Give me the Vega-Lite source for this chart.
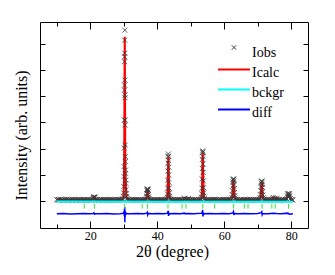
{
  "$schema": "https://vega.github.io/schema/vega-lite/v6.json",
  "width": 268,
  "height": 206,
  "autosize": {"type": "none"},
  "padding": {"left": 40, "top": 22, "right": 27, "bottom": 47},
  "background": "white",
  "config": {
    "font": "Liberation Serif, Times New Roman, serif",
    "view": {"stroke": "#000000", "strokeWidth": 1},
    "axis": {"tickColor": "#000000", "tickWidth": 1, "grid": false, "domain": false, "labelColor": "#000000", "titleColor": "#000000", "titleFontWeight": "normal", "labelFont": "Liberation Serif, Times New Roman, serif", "titleFont": "Liberation Serif, Times New Roman, serif"},
    "legend": {"labelFont": "Liberation Serif, Times New Roman, serif"}
  },
  "datasets": {
    "obs": [
      {"x":10.00,"y":0.06},{"x":10.25,"y":0.05},{"x":10.50,"y":0.07},{"x":10.75,"y":0.05},{"x":11.00,"y":0.06},{"x":11.25,"y":0.08},{"x":11.50,"y":0.05},{"x":11.75,"y":0.06},{"x":12.00,"y":0.04},{"x":12.25,"y":0.07},{"x":12.50,"y":0.05},{"x":12.75,"y":0.06},{"x":13.00,"y":0.08},{"x":13.25,"y":0.04},{"x":13.50,"y":0.06},{"x":13.75,"y":0.05},{"x":14.00,"y":0.07},{"x":14.25,"y":0.06},{"x":14.50,"y":0.04},{"x":14.75,"y":0.07},
      {"x":15.00,"y":0.05},{"x":15.25,"y":0.06},{"x":15.50,"y":0.07},{"x":15.75,"y":0.04},{"x":16.00,"y":0.06},{"x":16.25,"y":0.05},{"x":16.50,"y":0.08},{"x":16.75,"y":0.05},{"x":17.00,"y":0.06},{"x":17.25,"y":0.04},{"x":17.50,"y":0.07},{"x":17.75,"y":0.05},{"x":18.00,"y":0.06},{"x":18.25,"y":0.07},{"x":18.50,"y":0.05},{"x":18.75,"y":0.06},{"x":19.00,"y":0.04},{"x":19.25,"y":0.06},{"x":19.50,"y":0.07},{"x":19.75,"y":0.05},{"x":20.00,"y":0.06},{"x":20.25,"y":0.05},{"x":20.50,"y":0.07},
      {"x":20.75,"y":0.08},{"x":20.90,"y":0.11},{"x":21.00,"y":0.15},{"x":21.10,"y":0.17},{"x":21.20,"y":0.15},{"x":21.30,"y":0.13},{"x":21.45,"y":0.16},{"x":21.60,"y":0.08},
      {"x":21.75,"y":0.06},{"x":22.00,"y":0.05},{"x":22.25,"y":0.07},{"x":22.50,"y":0.04},{"x":22.75,"y":0.06},{"x":23.00,"y":0.05},{"x":23.25,"y":0.07},{"x":23.50,"y":0.06},{"x":23.75,"y":0.04},{"x":24.00,"y":0.06},{"x":24.25,"y":0.07},{"x":24.50,"y":0.05},{"x":24.75,"y":0.06},{"x":25.00,"y":0.05},{"x":25.25,"y":0.07},{"x":25.50,"y":0.04},{"x":25.75,"y":0.06},{"x":26.00,"y":0.08},{"x":26.25,"y":0.05},{"x":26.50,"y":0.06},{"x":26.75,"y":0.05},{"x":27.00,"y":0.07},{"x":27.25,"y":0.05},{"x":27.50,"y":0.06},{"x":27.75,"y":0.04},{"x":28.00,"y":0.07},{"x":28.25,"y":0.05},{"x":28.50,"y":0.06},{"x":28.75,"y":0.07},{"x":29.00,"y":0.05},{"x":29.25,"y":0.06},{"x":29.50,"y":0.08},
      {"x":29.80,"y":0.10},{"x":29.90,"y":0.20},{"x":29.96,"y":0.32},{"x":30.02,"y":0.56},{"x":30.06,"y":0.94},{"x":30.10,"y":1.32},{"x":30.14,"y":2.03},{"x":30.18,"y":3.09},{"x":30.22,"y":4.23},{"x":30.24,"y":4.42},{"x":30.25,"y":5.31},{"x":30.27,"y":5.50},{"x":30.28,"y":6.13},{"x":30.30,"y":6.51},{"x":30.32,"y":5.63},{"x":30.35,"y":4.61},{"x":30.37,"y":4.04},{"x":30.38,"y":3.94},{"x":30.41,"y":2.90},{"x":30.43,"y":3.09},{"x":30.44,"y":2.14},{"x":30.47,"y":1.70},{"x":30.50,"y":1.51},{"x":30.53,"y":1.19},{"x":30.57,"y":1.06},{"x":30.61,"y":0.81},{"x":30.65,"y":0.68},{"x":30.70,"y":0.43},{"x":30.76,"y":0.30},{"x":30.84,"y":0.18},{"x":30.92,"y":0.10},
      {"x":31.00,"y":0.08},{"x":31.25,"y":0.06},{"x":31.50,"y":0.07},{"x":31.75,"y":0.05},{"x":32.00,"y":0.06},{"x":32.25,"y":0.04},{"x":32.50,"y":0.07},{"x":32.75,"y":0.05},{"x":33.00,"y":0.06},{"x":33.25,"y":0.05},{"x":33.50,"y":0.07},{"x":33.75,"y":0.06},{"x":34.00,"y":0.04},{"x":34.25,"y":0.06},{"x":34.50,"y":0.07},{"x":34.75,"y":0.05},{"x":35.00,"y":0.06},{"x":35.25,"y":0.05},{"x":35.50,"y":0.07},{"x":35.75,"y":0.06},{"x":36.00,"y":0.05},{"x":36.25,"y":0.07},{"x":36.50,"y":0.06},
      {"x":36.70,"y":0.10},{"x":36.80,"y":0.18},{"x":36.88,"y":0.30},{"x":36.95,"y":0.40},{"x":37.00,"y":0.45},{"x":37.05,"y":0.47},{"x":37.10,"y":0.46},{"x":37.15,"y":0.44},{"x":37.20,"y":0.42},{"x":37.26,"y":0.36},{"x":37.32,"y":0.26},{"x":37.40,"y":0.16},{"x":37.50,"y":0.09},
      {"x":37.75,"y":0.06},{"x":38.00,"y":0.05},{"x":38.25,"y":0.07},{"x":38.50,"y":0.04},{"x":38.75,"y":0.06},{"x":39.00,"y":0.05},{"x":39.25,"y":0.07},{"x":39.50,"y":0.06},{"x":39.75,"y":0.05},{"x":40.00,"y":0.06},{"x":40.25,"y":0.04},{"x":40.50,"y":0.07},{"x":40.75,"y":0.05},{"x":41.00,"y":0.06},{"x":41.25,"y":0.07},{"x":41.50,"y":0.05},{"x":41.75,"y":0.06},{"x":42.00,"y":0.04},{"x":42.25,"y":0.07},{"x":42.50,"y":0.06},{"x":42.75,"y":0.05},
      {"x":42.85,"y":0.08},{"x":42.95,"y":0.15},{"x":43.03,"y":0.28},{"x":43.10,"y":0.50},{"x":43.15,"y":0.80},{"x":43.20,"y":1.15},{"x":43.24,"y":1.45},{"x":43.28,"y":1.70},{"x":43.31,"y":1.80},{"x":43.34,"y":1.72},{"x":43.37,"y":1.55},{"x":43.41,"y":1.30},{"x":43.45,"y":1.00},{"x":43.50,"y":0.72},{"x":43.55,"y":0.50},{"x":43.62,"y":0.32},{"x":43.70,"y":0.20},{"x":43.80,"y":0.11},
      {"x":44.00,"y":0.07},{"x":44.25,"y":0.05},{"x":44.50,"y":0.06},{"x":44.75,"y":0.04},{"x":45.00,"y":0.07},{"x":45.25,"y":0.05},{"x":45.50,"y":0.06},{"x":45.75,"y":0.05},{"x":46.00,"y":0.07},{"x":46.25,"y":0.06},{"x":46.50,"y":0.04},{"x":46.75,"y":0.06},{"x":47.00,"y":0.07},{"x":47.25,"y":0.05},{"x":47.50,"y":0.06},{"x":47.75,"y":0.05},
      {"x":47.95,"y":0.08},{"x":48.10,"y":0.12},{"x":48.25,"y":0.08},
      {"x":48.50,"y":0.06},{"x":48.75,"y":0.05},{"x":49.00,"y":0.07},
      {"x":49.20,"y":0.08},{"x":49.35,"y":0.11},{"x":49.50,"y":0.07},
      {"x":49.75,"y":0.05},{"x":50.00,"y":0.06},{"x":50.25,"y":0.04},{"x":50.50,"y":0.07},{"x":50.75,"y":0.05},{"x":51.00,"y":0.06},{"x":51.25,"y":0.07},{"x":51.50,"y":0.05},{"x":51.75,"y":0.06},{"x":52.00,"y":0.04},{"x":52.25,"y":0.07},{"x":52.50,"y":0.05},{"x":52.75,"y":0.06},{"x":53.00,"y":0.07},
      {"x":53.10,"y":0.08},{"x":53.20,"y":0.15},{"x":53.28,"y":0.28},{"x":53.35,"y":0.50},{"x":53.41,"y":0.85},{"x":53.46,"y":1.25},{"x":53.50,"y":1.60},{"x":53.54,"y":1.85},{"x":53.57,"y":1.92},{"x":53.60,"y":1.88},{"x":53.63,"y":1.70},{"x":53.67,"y":1.42},{"x":53.71,"y":1.10},{"x":53.76,"y":0.78},{"x":53.82,"y":0.52},{"x":53.89,"y":0.32},{"x":53.97,"y":0.20},{"x":54.08,"y":0.11},
      {"x":54.25,"y":0.07},{"x":54.50,"y":0.05},{"x":54.75,"y":0.06},{"x":55.00,"y":0.04},{"x":55.25,"y":0.07},{"x":55.50,"y":0.05},{"x":55.75,"y":0.06},{"x":56.00,"y":0.05},{"x":56.25,"y":0.07},{"x":56.50,"y":0.06},{"x":56.75,"y":0.05},{"x":57.00,"y":0.08},{"x":57.25,"y":0.06},{"x":57.50,"y":0.05},{"x":57.75,"y":0.07},{"x":58.00,"y":0.04},{"x":58.25,"y":0.06},{"x":58.50,"y":0.05},{"x":58.75,"y":0.07},{"x":59.00,"y":0.06},{"x":59.25,"y":0.04},{"x":59.50,"y":0.06},{"x":59.75,"y":0.07},{"x":60.00,"y":0.05},{"x":60.25,"y":0.06},{"x":60.50,"y":0.05},{"x":60.75,"y":0.07},{"x":61.00,"y":0.04},{"x":61.25,"y":0.06},{"x":61.50,"y":0.08},{"x":61.75,"y":0.05},{"x":62.00,"y":0.06},
      {"x":62.20,"y":0.08},{"x":62.32,"y":0.14},{"x":62.42,"y":0.25},{"x":62.50,"y":0.40},{"x":62.57,"y":0.58},{"x":62.63,"y":0.74},{"x":62.68,"y":0.83},{"x":62.73,"y":0.85},{"x":62.78,"y":0.84},{"x":62.83,"y":0.78},{"x":62.89,"y":0.64},{"x":62.95,"y":0.48},{"x":63.02,"y":0.33},{"x":63.10,"y":0.21},{"x":63.20,"y":0.12},{"x":63.32,"y":0.08},
      {"x":63.50,"y":0.06},{"x":63.75,"y":0.05},{"x":64.00,"y":0.07},{"x":64.25,"y":0.04},{"x":64.50,"y":0.06},{"x":64.75,"y":0.05},{"x":65.00,"y":0.07},{"x":65.25,"y":0.06},{"x":65.50,"y":0.04},{"x":65.75,"y":0.06},{"x":66.00,"y":0.07},{"x":66.25,"y":0.05},{"x":66.50,"y":0.06},{"x":66.75,"y":0.05},{"x":67.00,"y":0.07},{"x":67.25,"y":0.04},{"x":67.50,"y":0.06},{"x":67.75,"y":0.08},{"x":68.00,"y":0.05},{"x":68.25,"y":0.06},{"x":68.50,"y":0.05},{"x":68.75,"y":0.07},{"x":69.00,"y":0.05},{"x":69.25,"y":0.06},{"x":69.50,"y":0.04},{"x":69.75,"y":0.07},{"x":70.00,"y":0.05},{"x":70.25,"y":0.06},{"x":70.50,"y":0.07},
      {"x":70.60,"y":0.08},{"x":70.72,"y":0.14},{"x":70.83,"y":0.25},{"x":70.92,"y":0.40},{"x":71.00,"y":0.56},{"x":71.07,"y":0.69},{"x":71.13,"y":0.76},{"x":71.19,"y":0.77},{"x":71.25,"y":0.74},{"x":71.31,"y":0.65},{"x":71.38,"y":0.52},{"x":71.46,"y":0.37},{"x":71.55,"y":0.24},{"x":71.65,"y":0.14},{"x":71.78,"y":0.08},
      {"x":72.00,"y":0.07},{"x":72.25,"y":0.05},{"x":72.50,"y":0.06},{"x":72.75,"y":0.04},{"x":73.00,"y":0.07},{"x":73.25,"y":0.05},{"x":73.50,"y":0.06},{"x":73.75,"y":0.05},{"x":74.00,"y":0.07},{"x":74.25,"y":0.06},
      {"x":74.45,"y":0.09},{"x":74.60,"y":0.15},{"x":74.75,"y":0.09},
      {"x":75.00,"y":0.05},{"x":75.25,"y":0.07},
      {"x":75.45,"y":0.08},{"x":75.60,"y":0.12},{"x":75.75,"y":0.08},
      {"x":76.00,"y":0.06},{"x":76.25,"y":0.05},{"x":76.50,"y":0.07},{"x":76.75,"y":0.04},{"x":77.00,"y":0.06},{"x":77.25,"y":0.05},{"x":77.50,"y":0.07},{"x":77.75,"y":0.06},{"x":78.00,"y":0.05},{"x":78.25,"y":0.07},{"x":78.50,"y":0.06},
      {"x":78.70,"y":0.09},{"x":78.85,"y":0.20},{"x":78.95,"y":0.28},{"x":79.05,"y":0.30},{"x":79.15,"y":0.24},{"x":79.25,"y":0.20},{"x":79.35,"y":0.27},{"x":79.45,"y":0.29},{"x":79.55,"y":0.20},{"x":79.70,"y":0.10},
      {"x":80.00,"y":0.06},{"x":80.25,"y":0.07},{"x":80.50,"y":0.05}
    ],
    "calc": [
      {"x":10.0,"y":0.06},{"x":15.0,"y":0.06},{"x":20.6,"y":0.06},
      {"x":20.80,"y":0.07},{"x":20.95,"y":0.10},{"x":21.05,"y":0.14},{"x":21.12,"y":0.16},{"x":21.20,"y":0.14},{"x":21.30,"y":0.10},{"x":21.45,"y":0.07},{"x":21.70,"y":0.06},
      {"x":25.0,"y":0.06},{"x":29.6,"y":0.06},
      {"x":29.80,"y":0.10},{"x":29.90,"y":0.18},{"x":29.96,"y":0.30},{"x":30.02,"y":0.55},{"x":30.06,"y":0.85},{"x":30.10,"y":1.30},{"x":30.14,"y":2.00},{"x":30.18,"y":3.00},{"x":30.22,"y":4.30},{"x":30.25,"y":5.30},{"x":30.28,"y":6.05},{"x":30.30,"y":6.26},{"x":30.32,"y":6.00},{"x":30.35,"y":5.00},{"x":30.38,"y":3.90},{"x":30.41,"y":3.00},{"x":30.44,"y":2.20},{"x":30.47,"y":1.70},{"x":30.50,"y":1.35},{"x":30.53,"y":1.10},{"x":30.57,"y":0.90},{"x":30.61,"y":0.72},{"x":30.65,"y":0.58},{"x":30.70,"y":0.43},{"x":30.76,"y":0.30},{"x":30.84,"y":0.18},{"x":30.92,"y":0.11},{"x":31.20,"y":0.07},
      {"x":33.0,"y":0.06},{"x":36.5,"y":0.06},
      {"x":36.70,"y":0.07},{"x":36.85,"y":0.15},{"x":36.95,"y":0.30},{"x":37.02,"y":0.39},{"x":37.08,"y":0.43},{"x":37.14,"y":0.42},{"x":37.20,"y":0.37},{"x":37.28,"y":0.25},{"x":37.38,"y":0.14},{"x":37.50,"y":0.08},
      {"x":38.0,"y":0.06},{"x":42.7,"y":0.06},
      {"x":42.85,"y":0.07},{"x":42.95,"y":0.13},{"x":43.03,"y":0.26},{"x":43.10,"y":0.48},{"x":43.15,"y":0.78},{"x":43.20,"y":1.12},{"x":43.24,"y":1.42},{"x":43.28,"y":1.64},{"x":43.31,"y":1.70},{"x":43.34,"y":1.66},{"x":43.37,"y":1.52},{"x":43.41,"y":1.28},{"x":43.45,"y":0.98},{"x":43.50,"y":0.70},{"x":43.55,"y":0.48},{"x":43.62,"y":0.30},{"x":43.70,"y":0.18},{"x":43.80,"y":0.10},
      {"x":44.0,"y":0.06},{"x":47.8,"y":0.06},{"x":47.95,"y":0.08},{"x":48.10,"y":0.11},{"x":48.25,"y":0.07},{"x":48.8,"y":0.06},{"x":49.20,"y":0.07},{"x":49.35,"y":0.10},{"x":49.50,"y":0.07},{"x":49.7,"y":0.06},
      {"x":53.0,"y":0.06},
      {"x":53.10,"y":0.07},{"x":53.20,"y":0.14},{"x":53.28,"y":0.26},{"x":53.35,"y":0.48},{"x":53.41,"y":0.82},{"x":53.46,"y":1.20},{"x":53.50,"y":1.54},{"x":53.54,"y":1.76},{"x":53.57,"y":1.83},{"x":53.60,"y":1.79},{"x":53.63,"y":1.63},{"x":53.67,"y":1.36},{"x":53.71,"y":1.06},{"x":53.76,"y":0.75},{"x":53.82,"y":0.50},{"x":53.89,"y":0.30},{"x":53.97,"y":0.18},{"x":54.08,"y":0.10},
      {"x":54.3,"y":0.06},{"x":58.0,"y":0.06},{"x":62.1,"y":0.06},
      {"x":62.20,"y":0.07},{"x":62.32,"y":0.13},{"x":62.42,"y":0.23},{"x":62.50,"y":0.37},{"x":62.57,"y":0.53},{"x":62.63,"y":0.67},{"x":62.68,"y":0.74},{"x":62.73,"y":0.76},{"x":62.78,"y":0.74},{"x":62.83,"y":0.68},{"x":62.89,"y":0.56},{"x":62.95,"y":0.43},{"x":63.02,"y":0.30},{"x":63.10,"y":0.19},{"x":63.20,"y":0.11},{"x":63.32,"y":0.07},
      {"x":63.5,"y":0.06},{"x":67.0,"y":0.06},{"x":70.5,"y":0.06},
      {"x":70.60,"y":0.07},{"x":70.72,"y":0.13},{"x":70.83,"y":0.23},{"x":70.92,"y":0.36},{"x":71.00,"y":0.50},{"x":71.07,"y":0.62},{"x":71.13,"y":0.68},{"x":71.19,"y":0.69},{"x":71.25,"y":0.66},{"x":71.31,"y":0.58},{"x":71.38,"y":0.46},{"x":71.46,"y":0.33},{"x":71.55,"y":0.21},{"x":71.65,"y":0.12},{"x":71.78,"y":0.07},
      {"x":71.9,"y":0.06},{"x":74.4,"y":0.06},{"x":74.60,"y":0.13},{"x":74.8,"y":0.06},{"x":75.45,"y":0.06},{"x":75.60,"y":0.11},{"x":75.75,"y":0.06},
      {"x":78.6,"y":0.06},{"x":78.70,"y":0.07},{"x":78.85,"y":0.16},{"x":79.00,"y":0.26},{"x":79.15,"y":0.20},{"x":79.30,"y":0.20},{"x":79.45,"y":0.26},{"x":79.60,"y":0.14},{"x":79.75,"y":0.07},{"x":79.9,"y":0.06},{"x":80.5,"y":0.06}
    ],
    "bck": [
      {"x":10.0,"y":-0.01},{"x":45.0,"y":-0.02},{"x":80.5,"y":-0.02}
    ],
    "diff": [
      {"x":10,"y":-0.47},{"x":12,"y":-0.46},{"x":14,"y":-0.48},{"x":16,"y":-0.47},{"x":18,"y":-0.46},{"x":20,"y":-0.47},{"x":20.9,"y":-0.46},{"x":21.1,"y":-0.44},{"x":21.3,"y":-0.49},{"x":21.5,"y":-0.47},
      {"x":23,"y":-0.47},{"x":25,"y":-0.46},{"x":27,"y":-0.48},{"x":29,"y":-0.47},{"x":29.9,"y":-0.45},{"x":30.05,"y":-0.40},{"x":30.15,"y":-0.55},{"x":30.22,"y":-0.28},{"x":30.27,"y":-0.62},{"x":30.30,"y":-0.22},{"x":30.33,"y":-0.80},{"x":30.37,"y":-0.35},{"x":30.42,"y":-0.60},{"x":30.48,"y":-0.40},{"x":30.55,"y":-0.52},{"x":30.65,"y":-0.44},{"x":30.8,"y":-0.47},
      {"x":32,"y":-0.47},{"x":34,"y":-0.46},{"x":36,"y":-0.47},{"x":36.9,"y":-0.45},{"x":37.05,"y":-0.42},{"x":37.15,"y":-0.51},{"x":37.3,"y":-0.46},{"x":38.5,"y":-0.47},{"x":40,"y":-0.46},{"x":42,"y":-0.47},
      {"x":43.1,"y":-0.45},{"x":43.22,"y":-0.40},{"x":43.3,"y":-0.36},{"x":43.36,"y":-0.56},{"x":43.45,"y":-0.44},{"x":43.6,"y":-0.49},{"x":43.8,"y":-0.47},{"x":45,"y":-0.46},{"x":47,"y":-0.47},{"x":48.1,"y":-0.45},{"x":48.3,"y":-0.47},{"x":49,"y":-0.46},{"x":51,"y":-0.47},
      {"x":53.3,"y":-0.45},{"x":53.45,"y":-0.40},{"x":53.55,"y":-0.33},{"x":53.62,"y":-0.58},{"x":53.7,"y":-0.42},{"x":53.8,"y":-0.51},{"x":54.0,"y":-0.47},{"x":55.5,"y":-0.46},{"x":57.5,"y":-0.47},{"x":59.5,"y":-0.46},{"x":61.5,"y":-0.47},
      {"x":62.6,"y":-0.44},{"x":62.75,"y":-0.40},{"x":62.85,"y":-0.52},{"x":63.0,"y":-0.46},{"x":64,"y":-0.47},{"x":66,"y":-0.46},{"x":68,"y":-0.47},{"x":70,"y":-0.46},{"x":71.05,"y":-0.43},{"x":71.2,"y":-0.40},{"x":71.32,"y":-0.51},{"x":71.5,"y":-0.46},
      {"x":73,"y":-0.47},{"x":74.6,"y":-0.45},{"x":75.6,"y":-0.46},{"x":77,"y":-0.47},{"x":79.0,"y":-0.45},{"x":79.4,"y":-0.49},{"x":80.5,"y":-0.47}
    ],
    "bragg": [
      {"x":18.2},{"x":21.2},{"x":30.2},{"x":35.5},{"x":37.1},{"x":43.2},{"x":47.4},{"x":48.6},{"x":53.6},{"x":57.1},{"x":62.8},{"x":66.0},{"x":67.1},{"x":71.3},{"x":74.2},{"x":75.2},{"x":79.2}
    ]
  },
  "layer": [
    {
      "data": {"name": "calc"},
      "mark": {"type": "line", "strokeWidth": 2, "interpolate": "linear"},
      "encoding": {
        "x": {"field": "x", "type": "quantitative", "scale": {"domain": [5, 85], "nice": false, "zero": false},
              "axis": {"orient": "top", "values": [20, 40, 60, 80], "tickSize": -7, "labels": false, "title": null}},
        "y": {"field": "y", "type": "quantitative", "scale": {"domain": [-1.015, 6.82], "nice": false, "zero": false},
              "axis": {"orient": "right", "values": [0, 1, 2, 3, 4, 5, 6], "tickSize": -5, "labels": false, "title": null}},
        "color": {
          "datum": "Icalc",
          "scale": {"domain": ["Iobs", "Icalc", "bckgr", "diff"], "range": ["#3a3a3a", "#ff0000", "#00ffff", "#0000ff"]},
          "legend": {
            "title": null,
            "orient": "none",
            "legendX": 187,
            "legendY": 23.5,
            "padding": 0,
            "symbolSize": 400,
            "rowPadding": 6,
            "labelOffset": 11,
            "labelFont": "Liberation Serif, Times New Roman, serif",
            "labelFontSize": 14,
            "labelColor": "#000000",
            "symbolFillColor": "transparent",
            "symbolType": {"expr": "datum.value === 'Iobs' ? 'M-0.22,-0.72L0.22,-0.28M-0.22,-0.28L0.22,-0.72' : 'M-1.6,-0.3L1.6,-0.3'"},
            "symbolStrokeWidth": {"expr": "datum.value === 'Iobs' ? 1 : 2"}
          }
        }
      }
    },
    {
      "data": {"name": "obs"},
      "mark": {"type": "point", "shape": "M-1,-1L1,1M-1,1L1,-1", "size": 25, "filled": false, "strokeWidth": 0.8, "opacity": 1},
      "encoding": {
        "x": {"field": "x", "type": "quantitative",
              "axis": {"orient": "bottom", "values": [20, 40, 60, 80], "tickSize": -7, "labelPadding": 9, "labelFontSize": 12,
                       "title": "2θ (degree)", "titleFontSize": 16, "titleX": 132, "titleY": 28, "titleBaseline": "alphabetic", "titleAlign": "center"}},
        "y": {"field": "y", "type": "quantitative",
              "axis": {"orient": "left", "values": [0, 1, 2, 3, 4, 5, 6], "tickSize": -5, "labels": false,
                       "title": "Intensity (arb. units)", "titleFontSize": 16, "titleAngle": -90, "titleX": -14, "titleY": 113, "titleBaseline": "alphabetic", "titleAlign": "center"}},
        "color": {"datum": "Iobs"}
      }
    },
    {
      "data": {"name": "bck"},
      "mark": {"type": "line", "strokeWidth": 2},
      "encoding": {
        "x": {"field": "x", "type": "quantitative", "axis": {"orient": "bottom", "values": [10, 30, 50, 70], "tickSize": -4, "labels": false, "title": null}},
        "y": {"field": "y", "type": "quantitative", "axis": null},
        "color": {"datum": "bckgr"}
      }
    },
    {
      "data": {"name": "diff"},
      "mark": {"type": "line", "strokeWidth": 1.5},
      "encoding": {
        "x": {"field": "x", "type": "quantitative", "axis": {"orient": "top", "values": [10, 30, 50, 70], "tickSize": -4, "labels": false, "title": null}},
        "y": {"field": "y", "type": "quantitative", "axis": null},
        "color": {"datum": "diff"}
      }
    },
    {
      "data": {"name": "bragg"},
      "mark": {"type": "rule", "color": "#33e633", "strokeWidth": 1},
      "encoding": {
        "x": {"field": "x", "type": "quantitative", "axis": null},
        "y": {"datum": -0.1, "type": "quantitative", "axis": null},
        "y2": {"datum": -0.28}
      }
    }
  ]
}
